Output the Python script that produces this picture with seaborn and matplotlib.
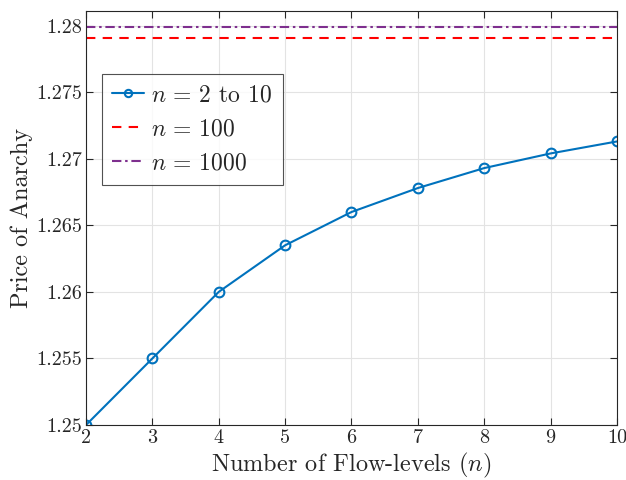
import numpy as np
import pandas as pd
import seaborn as sns
from matplotlib import pyplot as plt

# data
flow_levels = [2, 3, 4, 5, 6, 7, 8, 9, 10]
poa_small_n = [1.25, 1.255, 1.26, 1.2635, 1.266, 1.2678, 1.2693, 1.2704, 1.2713]
poa_n100 = 1.2791
poa_n1000 = 1.2799

sns.set_style("ticks")
plt.rcParams['font.family'] = ['serif']
plt.rcParams['font.serif'] = ['cmr10', 'DejaVu Serif']
plt.rcParams['mathtext.fontset'] = 'cm'
plt.rcParams['axes.formatter.use_mathtext'] = True

fig = plt.figure(figsize=(6.26, 4.8), dpi=100)
ax = fig.add_axes([0.1374, 0.1146, 0.8482, 0.8625])

blue = '#0072BD'
red = '#FF0000'
purple = '#7E2F8E'

sns.lineplot(x=flow_levels, y=poa_small_n, ax=ax, color=blue, lw=1.5,
             marker='o', markersize=7, markerfacecolor='none',
             markeredgecolor=blue, markeredgewidth=1.5,
             label=r'$n\,=\,2$ to 10')
sns.lineplot(x=[flow_levels[0], flow_levels[-1]], y=[poa_n100, poa_n100], ax=ax,
             color=red, lw=1.5, dashes=(4.5, 3.5), label=r'$n\,=\,100$')
sns.lineplot(x=[flow_levels[0], flow_levels[-1]], y=[poa_n1000, poa_n1000], ax=ax,
             color=purple, lw=1.5, dashes=(4.5, 1.8, 1.2, 1.8), label=r'$n\,=\,1000$')

ax.set_xlim(2, 10)
ax.set_ylim(1.25, 1.2811)
ax.set_xticks(flow_levels)
yt = [1.25, 1.255, 1.26, 1.265, 1.27, 1.275, 1.28]
ax.set_yticks(yt)
ax.set_yticklabels(['1.25', '1.255', '1.26', '1.265', '1.27', '1.275', '1.28'])
ax.set_xticklabels([str(v) for v in flow_levels])

ax.grid(True, color='#e3e3e3', lw=0.8)
ax.set_axisbelow(True)
for s in ax.spines.values():
    s.set_color('#262626')
    s.set_linewidth(0.8)
ax.tick_params(direction='in', top=True, right=True, length=5, width=0.8,
               colors='#262626', labelsize=14.5, pad=3)

ax.set_xlabel(r'Number of Flow-levels ($n$)', fontsize=17.5, color='#262626', labelpad=3)
ax.set_ylabel('Price of Anarchy', fontsize=17.5, color='#262626', labelpad=2)

leg = ax.legend(loc='upper left', bbox_to_anchor=(0.0296, 0.848), borderaxespad=0,
                fontsize=17, frameon=True, fancybox=False, handlelength=1.35,
                handletextpad=0.3, labelspacing=0.5, borderpad=0.45, markerscale=0.75)
leg.get_frame().set_edgecolor('#262626')
leg.get_frame().set_linewidth(0.8)

fig.savefig('out.png', dpi=100)
